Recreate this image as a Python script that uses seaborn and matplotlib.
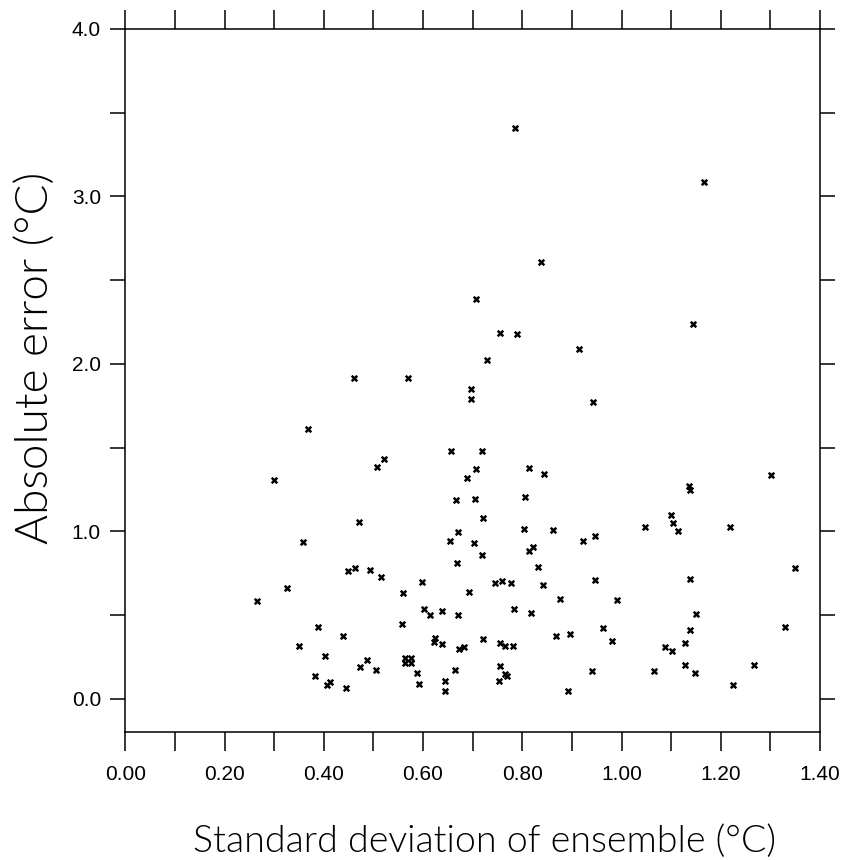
import matplotlib
matplotlib.use("Agg")
import matplotlib.pyplot as plt
import seaborn as sns
import pandas as pd
from matplotlib.ticker import MultipleLocator, FormatStrFormatter

sns.set_style("ticks")
plt.rcParams["font.family"] = ["Liberation Sans", "DejaVu Sans"]
plt.rcParams["text.color"] = "black"
plt.rcParams["axes.labelcolor"] = "black"
plt.rcParams["xtick.color"] = "black"
plt.rcParams["ytick.color"] = "black"
plt.rcParams["axes.edgecolor"] = "black"

# ensemble spread (x) vs absolute error (y)
spread = [
    0.785, 0.837, 0.707, 0.756, 0.789, 0.728, 0.460, 0.569, 1.166, 1.144, 0.914,
    0.696, 0.697, 0.368, 0.657, 0.719, 0.521, 0.507, 0.707, 0.814, 0.844,
    0.300, 0.689, 0.667, 0.704, 0.805, 0.720, 0.471, 0.671, 0.803, 0.655,
    0.358, 0.703, 0.813, 0.822, 0.718, 0.669, 0.832, 0.449, 0.462, 0.493,
    0.516, 0.597, 0.746, 0.760, 0.777, 0.841, 0.325, 0.559, 0.692, 0.266,
    0.601, 0.615, 0.638, 0.671, 0.783, 0.818, 0.558, 0.389, 0.439, 0.351,
    0.625, 0.623, 0.638, 0.673, 0.683, 0.721, 0.755, 0.765, 0.781, 0.403,
    0.473, 0.488, 0.505, 0.564, 0.576, 0.564, 0.576, 0.382, 0.406, 0.413,
    0.444, 0.588, 0.591, 0.645, 0.645, 0.664, 0.755, 0.765, 0.769, 0.753,
    0.942, 1.302, 1.135, 1.138, 1.099, 1.104, 1.114, 1.047, 1.219, 0.862,
    0.947, 0.922, 1.350, 0.946, 1.138, 0.876, 0.990, 1.150, 0.867, 0.896,
    0.962, 0.980, 1.137, 1.330, 1.088, 1.102, 1.127, 1.128, 1.148, 0.941,
    1.065, 1.267, 0.892, 1.225,
]
abs_error = [
    3.410, 2.608, 2.385, 2.182, 2.178, 2.022, 1.915, 1.913, 3.086, 2.238, 2.086,
    1.849, 1.789, 1.610, 1.480, 1.480, 1.435, 1.385, 1.375, 1.381, 1.343,
    1.309, 1.317, 1.185, 1.193, 1.203, 1.080, 1.056, 0.998, 1.012, 0.942,
    0.934, 0.928, 0.881, 0.908, 0.856, 0.811, 0.789, 0.761, 0.779, 0.769,
    0.727, 0.699, 0.691, 0.703, 0.691, 0.677, 0.663, 0.631, 0.635, 0.587,
    0.536, 0.498, 0.526, 0.500, 0.538, 0.512, 0.448, 0.428, 0.374, 0.314,
    0.362, 0.338, 0.325, 0.295, 0.307, 0.356, 0.333, 0.317, 0.317, 0.253,
    0.189, 0.229, 0.173, 0.245, 0.245, 0.213, 0.215, 0.137, 0.080, 0.099,
    0.066, 0.153, 0.090, 0.105, 0.045, 0.173, 0.195, 0.149, 0.139, 0.105,
    1.775, 1.335, 1.269, 1.245, 1.096, 1.052, 1.004, 1.028, 1.028, 1.006,
    0.974, 0.940, 0.779, 0.707, 0.713, 0.598, 0.588, 0.506, 0.378, 0.384,
    0.422, 0.347, 0.412, 0.428, 0.311, 0.283, 0.335, 0.203, 0.155, 0.165,
    0.167, 0.203, 0.048, 0.081,
]

df = pd.DataFrame({"spread": spread, "error": abs_error})

fig = plt.figure(figsize=(8.59, 8.60), dpi=100)
ax = fig.add_axes([0.1459, 0.1485, 0.8087, 0.8178])

sns.scatterplot(data=df, x="spread", y="error", marker="x", s=16,
                color="black", linewidth=1.8, ax=ax)

ax.set_xlim(0, 1.4)
ax.set_ylim(-0.2, 4.0)
ax.xaxis.set_major_locator(MultipleLocator(0.2))
ax.xaxis.set_minor_locator(MultipleLocator(0.1))
ax.yaxis.set_major_locator(MultipleLocator(1.0))
ax.yaxis.set_minor_locator(MultipleLocator(0.5))
ax.xaxis.set_major_formatter(FormatStrFormatter("%.2f"))
ax.yaxis.set_major_formatter(FormatStrFormatter("%.1f"))

for sp in ax.spines.values():
    sp.set_linewidth(1.1)
    sp.set_visible(True)

ax.tick_params(axis="x", which="both", direction="out", top=True, bottom=True,
               length=13.5, width=1.1, labelsize=15, pad=10)
ax.tick_params(axis="y", which="both", direction="out", left=True, right=True,
               length=10.6, width=1.1, labelsize=15, pad=7)

label_font = ["Lato", "DejaVu Sans"]
ax.set_xlabel("Standard deviation of ensemble (°C)", fontsize=27,
              family=label_font, fontweight=300)
ax.set_ylabel("Absolute error (°C)", fontsize=33,
              family=label_font, fontweight=300)
ax.xaxis.set_label_coords(0.5166, -0.170)
ax.xaxis.label.set_va("baseline")
ax.yaxis.set_label_coords(-0.130, 0.532)
ax.yaxis.label.set_va("center")

fig.savefig("out.png", dpi=100)
plt.close(fig)
